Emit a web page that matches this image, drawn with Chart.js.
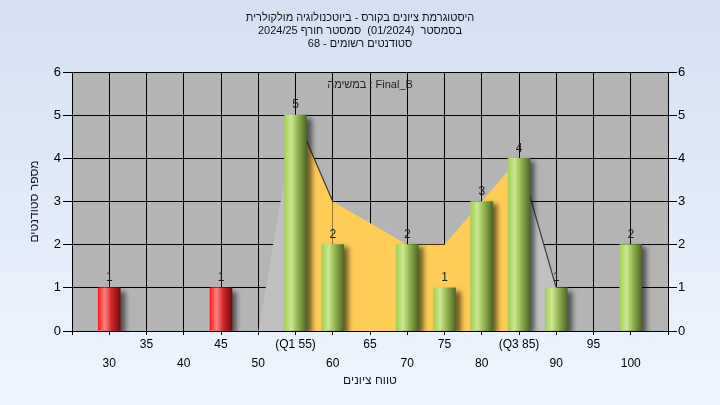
<!DOCTYPE html>
<html>
<head>
<meta charset="utf-8">
<script src="https://cdn.jsdelivr.net/npm/chart.js@4.4.1/dist/chart.umd.min.js"></script>
<style>
  html, body { margin: 0; padding: 0; background: #dfe9f7; }
  canvas { display: block; }
</style>
</head>
<body>
<canvas id="histChart" width="720" height="405"></canvas>
<script>
// histogram of grades, bins every 5 points
const scoreBins = [30, 35, 40, 45, 50, 55, 60, 65, 70, 75, 80, 85, 90, 95, 100];
const studentCounts = [1, 0, 0, 1, 0, 5, 2, 0, 2, 1, 3, 4, 1, 0, 2];

// frequency polygon behind the bars
const polygonScores = [50, 55, 60, 65, 70, 75, 80, 85, 90];
const polygonValues = [0, 5, 3, 2.5, 2, 2, 3, 4, 1];

const q1Score = 55;
const q3Score = 85;
const passScore = 50;

// x tick labels on two rows
const topRowValues = [35, 45, 55, 65, 75, 85, 95];
const topRowLabels = ['35', '45', '(Q1 55)', '65', '75', '(Q3 85)', '95'];
const bottomRowValues = [30, 40, 50, 60, 70, 80, 90, 100];
const bottomRowLabels = ['30', '40', '50', '60', '70', '80', '90', '100'];

const titleLines = [
  'היסטוגרמת ציונים בקורס - ביוטכנולוגיה מולקולרית',
  'בסמסטר  (01/2024)  סמסטר חורף 2024/25',
  'סטודנטים רשומים - 68'
];
const taskLabel = 'במשימה : Final_B';
const xTitle = 'טווח ציונים';
const yTitle = 'מספר סטודנטים';

Chart.defaults.font.family = "'Liberation Sans', Arial, sans-serif";
Chart.defaults.font.size = 12;
Chart.defaults.color = '#000';

const barData = scoreBins.map((s, i) => ({x: s, y: studentCounts[i]}));
const polyData = polygonScores.map((s, i) => ({x: s, y: polygonValues[i]}));

function barFill(c) {
  const chart = c.chart;
  if (c.raw && !c.raw.y) return 'rgba(0,0,0,0)';
  const fail = c.raw && c.raw.x < passScore;
  const solid = fail ? '#e02020' : '#9cc850';
  if (c.type !== 'data' || !chart.scales.x) return solid;
  const px = chart.scales.x.getPixelForValue(c.raw.x);
  if (!isFinite(px)) return solid;
  const g = chart.ctx.createLinearGradient(px - 11, 0, px + 11, 0);
  if (fail) {
    g.addColorStop(0, '#ff1c1c');
    g.addColorStop(0.3, '#ff8484');
    g.addColorStop(0.6, '#d82424');
    g.addColorStop(1, '#6e1010');
  } else {
    g.addColorStop(0, '#a2d056');
    g.addColorStop(0.3, '#cbe890');
    g.addColorStop(0.6, '#94b450');
    g.addColorStop(1, '#4e6826');
  }
  return g;
}

const bgPlugin = {
  id: 'bgPlugin',
  beforeDraw(chart) {
    const {ctx, chartArea: a} = chart;
    ctx.save();
    const g = ctx.createLinearGradient(0, 0, 0, chart.height);
    g.addColorStop(0, '#d4e1f3');
    g.addColorStop(1, '#eef5fe');
    ctx.fillStyle = g;
    ctx.fillRect(0, 0, chart.width, chart.height);
    ctx.fillStyle = '#b4b4b4';
    ctx.fillRect(a.left, a.top, a.right - a.left, a.bottom - a.top);
    ctx.restore();
  }
};

const shadowPlugin = {
  id: 'shadowPlugin',
  beforeDatasetDraw(chart, args) {
    if (args.meta.type !== 'bar') return;
    const ctx = chart.ctx;
    ctx.save();
    ctx.shadowColor = 'rgba(0,0,0,0.55)';
    ctx.shadowBlur = 5;
    ctx.shadowOffsetX = 5;
    ctx.shadowOffsetY = 3;
  },
  afterDatasetDraw(chart, args) {
    if (args.meta.type !== 'bar') return;
    chart.ctx.restore();
  }
};

const labelPlugin = {
  id: 'labelPlugin',
  afterDatasetsDraw(chart) {
    const ctx = chart.ctx;
    const a = chart.chartArea;
    ctx.save();
    ctx.font = "12px 'Liberation Sans', Arial, sans-serif";
    ctx.fillStyle = '#1e1a2a';
    ctx.textAlign = 'center';
    ctx.textBaseline = 'middle';
    const meta = chart.getDatasetMeta(1);
    meta.data.forEach((bar, i) => {
      if (!studentCounts[i]) return;
      ctx.fillText(String(studentCounts[i]), bar.x, bar.y - 10);
    });
    ctx.font = "11px 'Liberation Sans', Arial, sans-serif";
    ctx.fillStyle = '#2a1a2a';
    ctx.fillText(taskLabel, (a.left + a.right) / 2, a.top + 13);
    ctx.restore();
  }
};

new Chart(document.getElementById('histChart'), {
  type: 'bar',
  data: {
    datasets: [{
      type: 'line',
      label: 'polygon',
      data: polyData,
      order: 2,
      fill: 'origin',
      pointRadius: 0,
      borderWidth: 1.2,
      tension: 0,
      backgroundColor: '#c2c2c2',
      borderColor: 'transparent',
      segment: {
        backgroundColor: c => (c.p0.parsed.x >= q1Score && c.p1.parsed.x <= q3Score) ? '#ffcc55' : '#c0c0c0',
        borderColor: c => (c.p0.parsed.x === q1Score || c.p0.parsed.x === q3Score) ? '#3a3a3a' : 'transparent'
      }
    }, {
      type: 'bar',
      label: 'students',
      data: barData,
      order: 1,
      barThickness: 22,
      backgroundColor: barFill,
      borderWidth: 0
    }]
  },
  options: {
    responsive: false,
    animation: false,
    events: [],
    layout: {padding: 0},
    plugins: {
      legend: {display: false},
      tooltip: {enabled: false},
      title: {
        display: true,
        text: titleLines,
        color: '#111',
        font: {size: 11, weight: 'normal', lineHeight: '13px'},
        padding: {top: 11.5, bottom: 21.5}
      }
    },
    scales: {
      x: {
        type: 'linear',
        min: 25,
        max: 105,
        offset: false,
        afterFit: s => { s.height = 74; },
        grid: {color: '#000', lineWidth: 1, tickLength: 4, offset: false},
        border: {color: '#000'},
        ticks: {
          stepSize: 5,
          autoSkip: false,
          maxRotation: 0,
          padding: 0.5,
          font: {size: 12, lineHeight: '19px'},
          callback: v => {
            const i = topRowValues.indexOf(v);
            if (i >= 0) return [topRowLabels[i], ''];
            const j = bottomRowValues.indexOf(v);
            if (j >= 0) return ['', bottomRowLabels[j]];
            return '';
          }
        },
        title: {display: true, text: xTitle, color: '#1a1a2a', font: {size: 12}, padding: {top: 0, bottom: 17.5}}
      },
      y: {
        position: 'left',
        min: 0,
        max: 6,
        afterFit: s => { s.width = 72; },
        grid: {color: '#000', lineWidth: 1, tickLength: 9},
        border: {color: '#000'},
        ticks: {stepSize: 1, padding: 2, font: {size: 13}},
        title: {display: true, text: yTitle, color: '#1a1a2a', font: {size: 12}, padding: {top: 27, bottom: 0}}
      },
      y2: {
        position: 'right',
        min: 0,
        max: 6,
        afterFit: s => { s.width = 52; },
        grid: {drawOnChartArea: false, color: '#000', tickLength: 9},
        border: {color: '#000'},
        ticks: {stepSize: 1, padding: 1, font: {size: 13}}
      }
    }
  },
  plugins: [bgPlugin, shadowPlugin, labelPlugin]
});
</script>
</body>
</html>
